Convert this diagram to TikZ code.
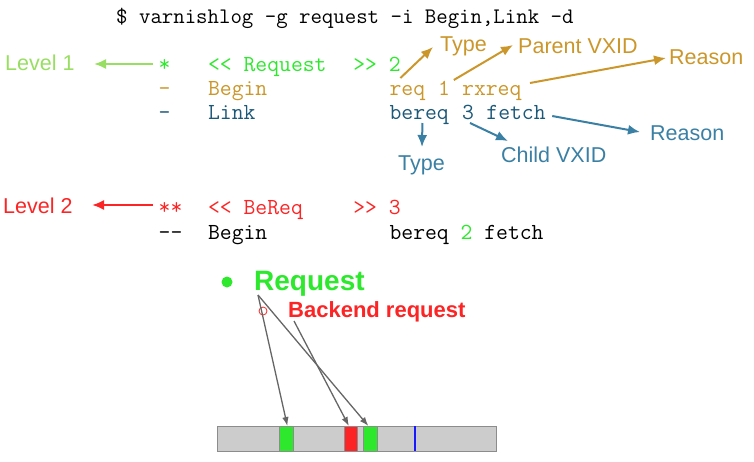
\documentclass[tikz,border=0pt]{standalone}
\usepackage{fontspec}
\newfontfamily\lblfont{Liberation Sans}
\usetikzlibrary{arrows.meta}
\definecolor{lvlgreen}{RGB}{152,222,98}
\definecolor{reqgreen}{RGB}{45,232,45}
\definecolor{ochre}{RGB}{203,150,42}
\definecolor{linkblue}{RGB}{28,88,120}
\definecolor{lblblue}{RGB}{58,128,164}
\definecolor{bered}{RGB}{252,36,36}
\definecolor{bargray}{RGB}{204,204,204}
\tikzset{
  mono/.style={anchor=base west,inner sep=0pt,font=\fontsize{23}{27}\selectfont\ttfamily},
  lbl/.style={anchor=base west,inner sep=0pt,font=\fontsize{21.5}{25}\selectfont\lblfont},
  arr/.style={line width=2pt,-{Latex[length=12pt,width=10pt]}},
  garr/.style={draw=black!60,line width=1.3pt,-{Latex[length=9pt,width=6.5pt]}},
  blk/.style={draw=black!45,line width=0.8pt,anchor=north west,inner sep=0pt,minimum height=25pt},
}
\begin{document}
\begin{tikzpicture}[x=1pt,y=-1pt]
  \useasboundingbox (0,0) rectangle (754,461);

  \node[mono,font=\fontsize{22.2}{26}\selectfont\ttfamily] (cmd) at (116,23) {\$ varnishlog -g request -i Begin,Link -d};

  \node[mono,reqgreen] (star) at (158.5,71) {*};
  \node[mono,reqgreen] at (207.9,71) {<< Request};
  \node[mono,reqgreen] at (353.1,71) {>> 2};

  \node[mono,ochre] at (158.5,95) {-};
  \node[mono,ochre] at (207.9,95) {Begin};
  \node[mono,ochre] (req) at (389.4,95) {req};
  \node[mono,ochre] (pvxid) at (437.8,95) {1};
  \node[mono,ochre] (rxreq) at (462,95) {rxreq};

  \node[mono,linkblue] at (158.5,119) {-};
  \node[mono,linkblue] at (207.9,119) {Link};
  \node[mono,linkblue] (bereq) at (389.4,119) {bereq};
  \node[mono,linkblue] (cvxid) at (462,119) {3};
  \node[mono,linkblue] (fetch) at (486.2,119) {fetch};

  \node[mono,bered] (star2) at (158.5,214.5) {**};
  \node[mono,bered] at (207.9,214.5) {<< BeReq};
  \node[mono,bered] at (353.1,214.5) {>> 3};

  \node[mono] at (158.5,239) {-{}-};
  \node[mono] at (207.9,239) {Begin};
  \node[mono] at (389.4,239) {bereq \textcolor{reqgreen}{2} fetch};

  \node[lbl,lvlgreen] (lvlone) at (5,70) {Level 1};
  \node[lbl,bered] (lvltwo) at (3,213) {Level 2};
  \node[lbl,ochre] (typeA) at (440,51) {Type};
  \node[lbl,ochre] (parent) at (518,53) {Parent VXID};
  \node[lbl,ochre] (reasonA) at (669,64) {Reason};
  \node[lbl,lblblue] (typeB) at (398,170) {Type};
  \node[lbl,lblblue] (child) at (501,162) {Child VXID};
  \node[lbl,lblblue] (reasonB) at (650,140) {Reason};

  \draw[arr,lvlgreen] ([shift={(-5.5,-7)}]star.base west) -- ([shift={(89,-6)}]lvlone.base west);
  \draw[arr,bered] ([shift={(-5.5,-9.5)}]star2.base west) -- ([shift={(89,-8)}]lvltwo.base west);

  \draw[arr,ochre] ([shift={(11,-17)}]req.base west) -- ([shift={(-7,-4)}]typeA.base west);
  \draw[arr,ochre] ([shift={(16,-15)}]pvxid.base west) -- ([shift={(-5,-8)}]parent.base west);
  \draw[arr,ochre] ([shift={(68,-12)}]rxreq.base west) -- ([shift={(-3,-6)}]reasonA.base west);

  \draw[arr,lblblue] ([shift={(33,4)}]bereq.base west) -- ([shift={(24,-23)}]typeB.base west);
  \draw[arr,lblblue] ([shift={(8,4)}]cvxid.base west) -- ([shift={(7,-21)}]child.base west);
  \draw[arr,lblblue] ([shift={(66,-3)}]fetch.base west) -- ([shift={(-10,-8)}]reasonB.base west);

  \fill[reqgreen] (227,282) circle (5.5);
  \node[anchor=base west,inner sep=0pt,reqgreen,font=\fontsize{28}{32}\selectfont\lblfont\bfseries] (rq) at (254,290) {Request};
  \draw[bered,line width=0.8pt] (263,311) circle (4);
  \node[anchor=base west,inner sep=0pt,bered,font=\fontsize{22}{26}\selectfont\lblfont\bfseries] (be) at (288,317) {Backend request};

  \draw[fill=bargray,draw=black!45,line width=1pt] (217,426) rectangle (496,451);
  \node[blk,fill=reqgreen,minimum width=14pt] (blkone) at (279,426) {};
  \node[blk,fill=bered,minimum width=13pt] (blkred) at (344,426) {};
  \node[blk,fill=reqgreen,minimum width=14pt] (blktwo) at (363,426) {};
  \draw[blue!90,line width=2pt] (415,426) -- (415,451);

  \draw[garr] ([shift={(4,5)}]rq.base west) -- ([xshift=1pt]blkone.north);
  \draw[garr] ([shift={(4,5)}]rq.base west) -- ([xshift=-2pt]blktwo.north);
  \draw[garr] ([shift={(6,4)}]be.base west) -- ([xshift=-2pt]blkred.north);
\end{tikzpicture}
\end{document}
